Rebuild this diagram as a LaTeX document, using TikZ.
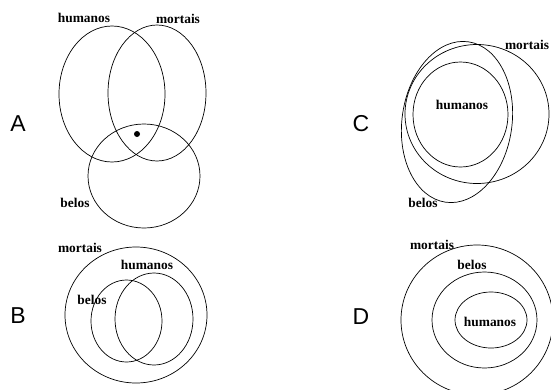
\documentclass[tikz,border=0pt]{standalone}
\usepackage{fontspec}
\setmainfont{Liberation Serif}
\newfontfamily\letterfont{Liberation Sans}
\begin{document}
\begin{tikzpicture}[x=1pt,y=-1pt,
  setline/.style={draw=black,line width=0.7pt},
  setlabel/.style={font=\bfseries\fontsize{13.4}{14}\selectfont,inner sep=0pt,anchor=center},
  panelletter/.style={font=\letterfont\fontsize{23}{24}\selectfont,inner sep=0pt,anchor=center}]
\useasboundingbox (0,0) rectangle (551,389);
% ---------- Panel A ----------
\node[panelletter] (lA) at (18,124) {A};
\draw[setline] (112,94) ellipse (53 and 68);
\draw[setline] (157,93) ellipse (49 and 68);
\draw[setline] (144,176) ellipse (56 and 52);
\fill (137,134) circle (3);
\node[setlabel] (hA) at (84,18) {humanos};
\node[setlabel] (mA) at (178,19) {mortais};
\node[setlabel] (bA) at (75,203) {belos};
% ---------- Panel B ----------
\node[panelletter] (lB) at (18,316) {B};
\draw[setline] (136,315) ellipse (71 and 68);
\draw[setline] (126.5,321) ellipse (35.5 and 41);
\draw[setline] (154,319) ellipse (39 and 46);
\node[setlabel] (mB) at (80,248) {mortais};
\node[setlabel] (hB) at (147,265) {humanos};
\node[setlabel] (bB) at (92,300) {belos};
% ---------- Panel C ----------
\node[panelletter] (lC) at (361,124) {C};
\draw[setline] (460.5,114.5) ellipse (47.5 and 52.5);
\draw[setline] (477,114) ellipse (72 and 69.5);
\draw[setline,rotate around={-8:(457,122)}] (457,122) ellipse (55 and 81);
\node[setlabel] (hC) at (462,105) {humanos};
\node[setlabel] (mC) at (527,45) {mortais};
\node[setlabel] (bC) at (423,203) {belos};
% ---------- Panel D ----------
\node[panelletter] (lD) at (361,317) {D};
\draw[setline] (477,320) ellipse (76 and 75);
\draw[setline] (484.5,320) ellipse (52.5 and 48);
\draw[setline] (491,320) ellipse (36 and 28);
\node[setlabel] (mD) at (432,245) {mortais};
\node[setlabel] (bD) at (472,265) {belos};
\node[setlabel] (hD) at (490,322) {humanos};
\end{tikzpicture}
\end{document}
